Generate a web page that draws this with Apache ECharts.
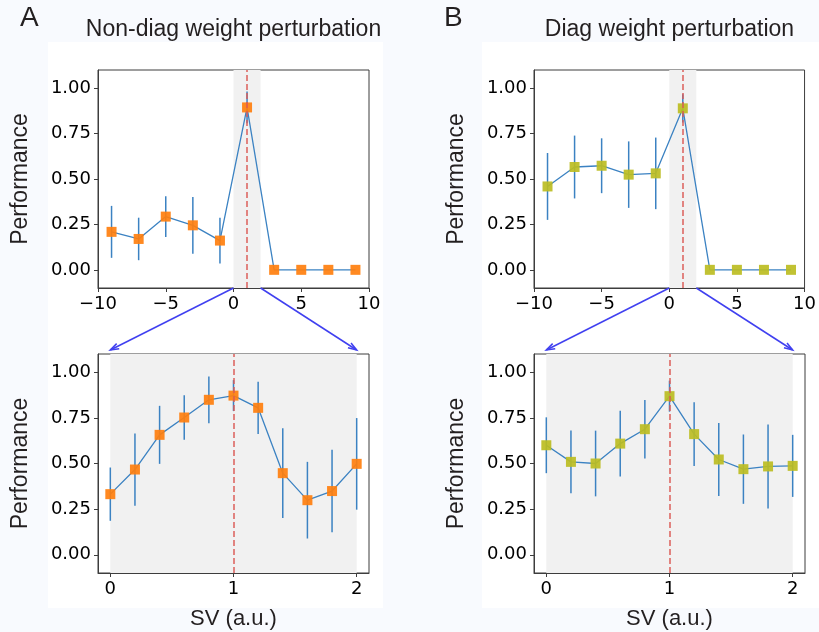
<!DOCTYPE html>
<html>
<head>
<meta charset="utf-8">
<script src="https://cdn.jsdelivr.net/npm/echarts@6/dist/echarts.min.js"></script>
<style>
  html, body { margin: 0; padding: 0; background: #f8fafe; }
  #chart { width: 819px; height: 632px; }
</style>
</head>
<body>
<div id="chart"></div>
<script>
// ---- data -------------------------------------------------------------
// Coarse sweep of the perturbation SV (top row)
const coarseSV = [-9, -7, -5, -3, -1, 1, 3, 5, 7, 9];
const nonDiagCoarseMean = [0.209, 0.170, 0.293, 0.245, 0.161, 0.894, 0, 0, 0, 0];
const nonDiagCoarseErr  = [0.143, 0.117, 0.112, 0.156, 0.126, 0.087, 0, 0, 0, 0];
const diagCoarseMean    = [0.459, 0.566, 0.573, 0.524, 0.531, 0.889, 0, 0, 0, 0];
const diagCoarseErr     = [0.184, 0.173, 0.151, 0.183, 0.197, 0.078, 0, 0, 0, 0];

// Fine sweep inside the highlighted window (bottom row)
const fineSV = [0, 0.2, 0.4, 0.6, 0.8, 1.0, 1.2, 1.4, 1.6, 1.8, 2.0];
const nonDiagFineMean = [0.332, 0.467, 0.657, 0.752, 0.849, 0.872, 0.805, 0.447, 0.299, 0.349, 0.498];
const nonDiagFineErr  = [0.146, 0.198, 0.159, 0.122, 0.128, 0.085, 0.143, 0.246, 0.210, 0.226, 0.251];
const diagFineMean    = [0.600, 0.509, 0.500, 0.609, 0.688, 0.869, 0.661, 0.522, 0.469, 0.484, 0.487];
const diagFineErr     = [0.153, 0.172, 0.180, 0.180, 0.160, 0.085, 0.175, 0.200, 0.190, 0.230, 0.170];

// ---- labels / ticks ---------------------------------------------------
const panelTitles  = ['Non-diag weight perturbation', 'Diag weight perturbation'];
const panelLetters = ['A', 'B'];
const yTicks       = [0, 0.25, 0.5, 0.75, 1.0];
const coarseXTicks = [-10, -5, 0, 5, 10];
const fineXTicks   = [0, 1, 2];
const yName = 'Performance';
const xName = 'SV (a.u.)';
const zoomWindow = [0, 2];   // SV window examined in the bottom row
const referenceSV = 1;       // dashed reference line

const yRange = [-0.1, 1.1];
const coarseXRange = [-10, 10];
const fineXRange = [-0.1, 2.1];

// ---- styling ----------------------------------------------------------
const spine = '#3d3d3d';
const lineBlue = '#3b82c2';
const markerColors = ['#ff7f0e', '#bcbd22'];
const tickFont = { fontFamily: 'DejaVu Sans', fontSize: 18, color: '#000' };
const textFont = 'Liberation Sans';
const textColor = '#231f20';

const gridBoxes = [
  { left: 98,  top: 70,  width: 271, height: 218 },
  { left: 534, top: 70,  width: 271, height: 218 },
  { left: 98,  top: 354, width: 271, height: 219 },
  { left: 534, top: 354, width: 271, height: 219 }
];

const panels = [
  { x: coarseSV, mean: nonDiagCoarseMean, err: nonDiagCoarseErr, color: markerColors[0], fine: false },
  { x: coarseSV, mean: diagCoarseMean,    err: diagCoarseErr,    color: markerColors[1], fine: false },
  { x: fineSV,   mean: nonDiagFineMean,   err: nonDiagFineErr,   color: markerColors[0], fine: true },
  { x: fineSV,   mean: diagFineMean,      err: diagFineErr,      color: markerColors[1], fine: true }
];

const fmtTick = v => String(v).replace('-', '\u2212');

const grid = gridBoxes.map(b => Object.assign({
  show: true, backgroundColor: '#ffffff', borderColor: spine, borderWidth: 1, containLabel: false
}, b));

const xAxis = panels.map((p, i) => {
  const base = {
    type: 'value', gridIndex: i,
    axisLine: { show: true, onZero: false, lineStyle: { color: spine, width: 1 } },
    axisTick: { show: true, length: 4, lineStyle: { color: spine } },
    splitLine: { show: false },
    axisLabel: Object.assign({ margin: 7, formatter: fmtTick }, tickFont)
  };
  if (p.fine) {
    base.min = fineXRange[0]; base.max = fineXRange[1];
    base.axisTick.customValues = fineXTicks;
    base.axisLabel.customValues = fineXTicks;
    base.name = xName;
    base.nameLocation = 'middle';
    base.nameGap = 35;
    base.nameTextStyle = { fontFamily: textFont, fontSize: 22, color: textColor };
  } else {
    base.min = coarseXRange[0]; base.max = coarseXRange[1];
    base.axisTick.customValues = coarseXTicks;
    base.axisLabel.customValues = coarseXTicks;
  }
  return base;
});

const yAxis = panels.map((p, i) => ({
  type: 'value', gridIndex: i, min: yRange[0], max: yRange[1],
  axisLine: { show: true, onZero: false, lineStyle: { color: spine, width: 1 } },
  axisTick: { show: true, length: 4, customValues: yTicks, lineStyle: { color: spine } },
  splitLine: { show: false },
  axisLabel: Object.assign({ margin: 7, customValues: yTicks, formatter: v => v.toFixed(2) }, tickFont),
  name: yName, nameLocation: 'middle', nameGap: 66,
  nameTextStyle: { fontFamily: textFont, fontSize: 23, color: textColor }
}));

function renderErrorBar(params, api) {
  const x = api.value(0);
  const p1 = api.coord([x, api.value(1)]);
  const p2 = api.coord([x, api.value(2)]);
  return {
    type: 'line',
    shape: { x1: p1[0], y1: p1[1], x2: p2[0], y2: p2[1] },
    style: { stroke: lineBlue, lineWidth: 1.5 }
  };
}

const series = [];
panels.forEach((p, i) => {
  // grey window of interest
  series.push({
    type: 'line', xAxisIndex: i, yAxisIndex: i, data: [], z: 1, silent: true,
    markArea: {
      silent: true,
      itemStyle: { color: '#f1f1f1' },
      data: [[{ xAxis: zoomWindow[0] }, { xAxis: zoomWindow[1] }]]
    }
  });
  // error bars
  series.push({
    type: 'custom', xAxisIndex: i, yAxisIndex: i, z: 2, silent: true,
    renderItem: renderErrorBar,
    encode: { x: 0, y: [1, 2] },
    data: p.x.map((x, k) => [x, p.mean[k] - p.err[k], p.mean[k] + p.err[k]])
  });
  // dashed reference
  series.push({
    type: 'line', xAxisIndex: i, yAxisIndex: i, data: [], z: 3, silent: true,
    markLine: {
      silent: true, symbol: 'none', label: { show: false },
      lineStyle: { color: '#dc5a55', type: [6, 3], width: 1.6, opacity: 0.9 },
      data: [{ xAxis: referenceSV }]
    }
  });
  // mean curve
  series.push({
    type: 'line', xAxisIndex: i, yAxisIndex: i, z: 4,
    data: p.x.map((x, k) => [x, p.mean[k]]),
    symbol: 'rect', symbolSize: 10, showAllSymbol: true,
    lineStyle: { color: lineBlue, width: 1.3 },
    itemStyle: { color: p.color, opacity: 0.92 },
    emphasis: { disabled: true },
    animation: false
  });
});

const chart = echarts.init(document.getElementById('chart'), null, { renderer: 'canvas' });
chart.setOption({
  animation: false,
  backgroundColor: 'transparent',
  grid, xAxis, yAxis, series
});

// ---- panel backgrounds, titles, letters and zoom arrows ----------------
const graphics = [
  { type: 'rect', z: -10, silent: true, shape: { x: 48, y: 42, width: 335, height: 566 }, style: { fill: '#ffffff' } },
  { type: 'rect', z: -10, silent: true, shape: { x: 482, y: 42, width: 337, height: 566 }, style: { fill: '#ffffff' } }
];

[0, 1].forEach(c => {
  const b = gridBoxes[c];
  graphics.push({
    type: 'text', silent: true, x: b.left + b.width / 2, y: 30,
    style: { text: panelTitles[c], font: `23px "${textFont}"`, fill: textColor, align: 'center', verticalAlign: 'middle' }
  });
  graphics.push({
    type: 'text', silent: true, x: c === 0 ? 20 : 444, y: 18,
    style: { text: panelLetters[c], font: `28px "${textFont}"`, fill: textColor, align: 'left', verticalAlign: 'middle' }
  });

  // arrows from the grey window in the coarse panel to the fine panel
  zoomWindow.forEach(sv => {
    const from = chart.convertToPixel({ gridIndex: c }, [sv, yRange[0]]);
    const to = chart.convertToPixel({ gridIndex: c + 2 }, [sv, yRange[1]]);
    to[1] -= 4;
    const ang = Math.atan2(to[1] - from[1], to[0] - from[0]);
    const L = 9, W = 0.32;
    const h1 = [to[0] - L * Math.cos(ang - W), to[1] - L * Math.sin(ang - W)];
    const h2 = [to[0] - L * Math.cos(ang + W), to[1] - L * Math.sin(ang + W)];
    graphics.push({
      type: 'line', silent: true, z: 20,
      shape: { x1: from[0], y1: from[1], x2: to[0], y2: to[1] },
      style: { stroke: '#4040f0', lineWidth: 1.5 }
    });
    graphics.push({
      type: 'polyline', silent: true, z: 20,
      shape: { points: [h1, to, h2] },
      style: { stroke: '#4040f0', lineWidth: 1.5, fill: null }
    });
  });
});

chart.setOption({ graphic: graphics });
</script>
</body>
</html>
